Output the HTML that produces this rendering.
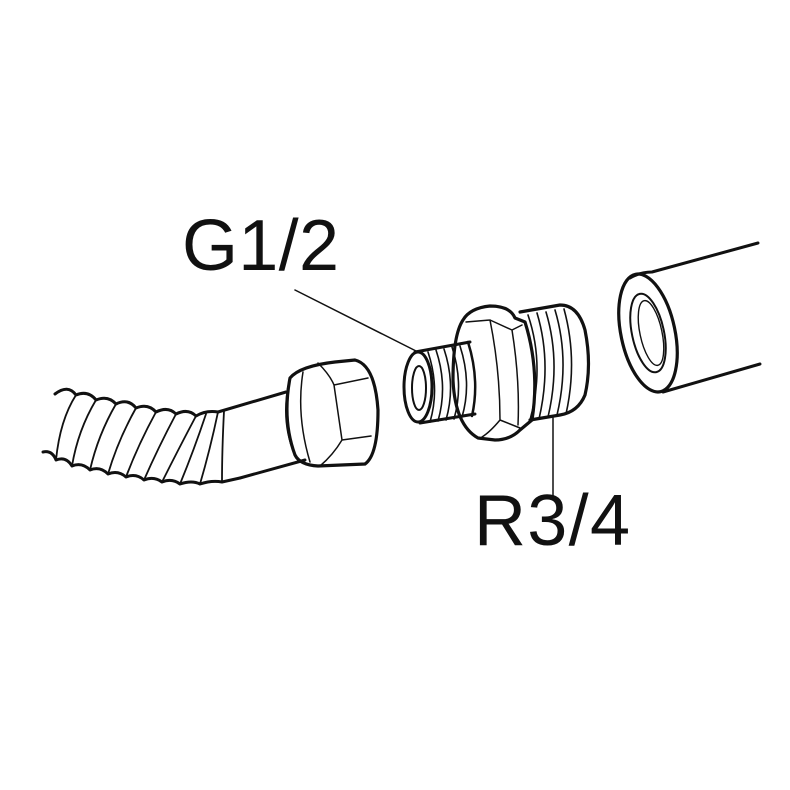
<!DOCTYPE html>
<html><head><meta charset="utf-8"><style>html,body{margin:0;padding:0;background:#fff}svg{display:block}</style></head>
<body>
<svg width="790" height="790" viewBox="0 0 790 790" xmlns="http://www.w3.org/2000/svg" fill="none" stroke="#111" stroke-linecap="round" stroke-linejoin="round">
<rect width="790" height="790" fill="#fff" stroke="none"/>
<text x="182" y="270" font-family="Liberation Sans, sans-serif" font-size="72" fill="#111" stroke="none" textLength="157" lengthAdjust="spacing">G1/2</text>
<text x="474" y="545" font-family="Liberation Sans, sans-serif" font-size="72" fill="#111" stroke="none" textLength="156" lengthAdjust="spacing">R3/4</text>
<!-- leaders -->
<line x1="295" y1="290" x2="420" y2="353" stroke-width="1.5"/>
<line x1="553" y1="418" x2="553" y2="500" stroke-width="1.5"/>
<!-- hose corrugated -->
<path d="M55,394 Q68,384 76,395 Q88,390 96,400 Q108,395 116,404 Q128,398 136,408 Q148,403 156,412 Q168,406 176,414 Q188,408 196,416 Q206,410 218,412" stroke-width="3"/>
<path d="M43,452 Q52,450 56,460 Q66,456 72,466 Q82,462 90,470 Q100,466 108,474 Q118,470 126,477 Q136,473 144,480 Q154,476 162,482 Q172,478 180,484 Q192,480 200,484 Q212,480 222,482 L240,478" stroke-width="3"/>
<g stroke-width="1.8">
<path d="M76,395 Q60,420 56,460"/><path d="M96,400 Q78,430 72,466"/><path d="M116,404 Q98,435 90,470"/>
<path d="M136,408 Q118,440 108,474"/><path d="M156,412 Q138,445 126,477"/><path d="M176,414 Q158,448 144,480"/>
<path d="M196,416 Q178,450 162,482"/><path d="M206,414 Q194,450 180,484"/><path d="M218,412 Q210,450 200,484"/><path d="M224,411 Q222,450 222,482"/>
</g>
<!-- smooth tube -->
<path d="M218,412 L286,392" stroke-width="3"/>
<path d="M240,478 L305,460" stroke-width="3"/>
<!-- nut -->
<path d="M290,378 Q300,366 335,362 L355,360 Q375,365 378,410 Q378,455 365,464 L318,466 Q300,465 295,455 Q282,420 290,378 Z" stroke-width="3.2"/>
<path d="M290,378 Q280,420 295,455" stroke-width="2"/>
<path d="M303,372 Q296,415 310,462" stroke-width="1.5"/>
<path d="M318,363 Q330,375 334,385 L368,378 M334,385 L342,440 L371,436 M342,440 Q333,455 320,466" stroke-width="1.5"/>
<!-- small thread part -->
<ellipse cx="418" cy="387" rx="14" ry="35" stroke-width="3"/>
<ellipse cx="419" cy="388" rx="7" ry="22" stroke-width="2"/>
<path d="M415,352 L470,342 M420,423 L475,414" stroke-width="3"/>
<g stroke-width="1.6"><path d="M428,352 Q440,388 430,422"/><path d="M436,350 Q448,386 438,421"/><path d="M444,349 Q456,385 446,420"/><path d="M452,347 Q464,384 454,419"/><path d="M460,346 Q472,383 462,417"/></g>
<path d="M468,342 Q480,380 472,416" stroke-width="2.5"/>
<!-- hex body -->
<path d="M463,320 Q470,308 490,306 Q510,306 515,318 L525,322 Q540,370 532,420 L520,430 Q510,440 495,440 L478,438 Q455,425 453,380 Q453,335 463,320 Z" stroke-width="3.2"/>
<path d="M466,322 L490,320 L512,330 L522,325 M490,320 Q500,370 500,420 M512,330 Q520,380 518,425 M500,420 L520,428 M500,420 Q490,432 482,437" stroke-width="1.5"/>
<!-- big thread -->
<path d="M520,312 L560,305 Q578,305 585,330 Q592,365 585,395 Q578,412 560,415 L530,420" stroke-width="3.2"/>
<g stroke-width="1.6"><path d="M528,315 Q545,365 530,420"/><path d="M537,313 Q552,363 539,419"/><path d="M546,312 Q561,362 548,417"/><path d="M555,310 Q570,360 557,415"/><path d="M564,309 Q578,360 566,414"/></g>
<!-- pipe -->
<ellipse cx="648" cy="333" rx="27" ry="60" transform="rotate(-12 648 333)" stroke-width="3.2"/>
<ellipse cx="648" cy="333" rx="16" ry="40" transform="rotate(-12 648 333)" stroke-width="2"/>
<ellipse cx="651" cy="333" rx="11" ry="33" transform="rotate(-12 651 333)" stroke-width="1.4"/>
<path d="M630,278 Q640,272 652,272 L758,243" stroke-width="3"/>
<path d="M663,392 L760,364" stroke-width="3"/>
</svg>
</body></html>
